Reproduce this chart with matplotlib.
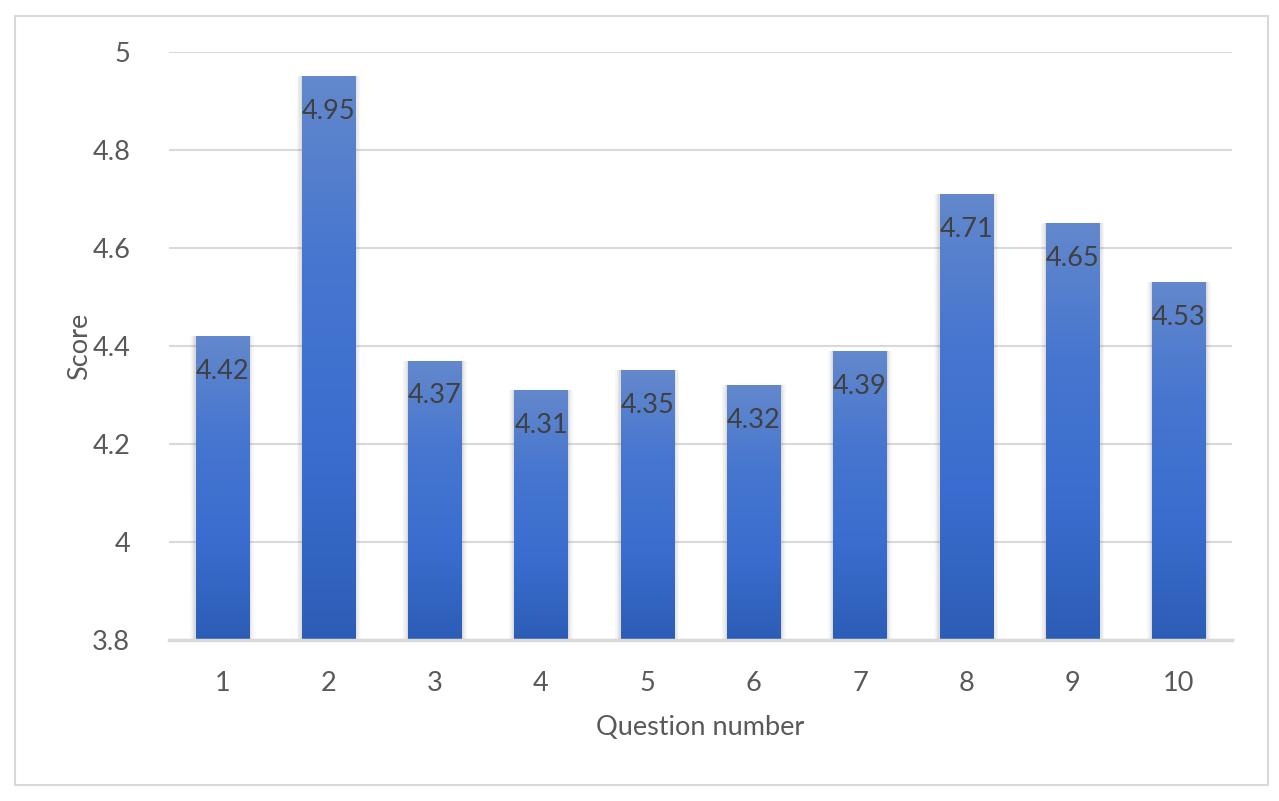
import numpy as np
import matplotlib
matplotlib.use("Agg")
import matplotlib.pyplot as plt
from matplotlib.colors import LinearSegmentedColormap
from matplotlib.patches import Rectangle

# data
questions = ["1", "2", "3", "4", "5", "6", "7", "8", "9", "10"]
scores = [4.42, 4.95, 4.37, 4.31, 4.35, 4.32, 4.39, 4.71, 4.65, 4.53]
y_ticks = [3.8, 4.0, 4.2, 4.4, 4.6, 4.8, 5.0]
y_tick_labels = ["3.8", "4", "4.2", "4.4", "4.6", "4.8", "5"]

plt.rcParams['font.family'] = ['Lato', 'DejaVu Sans']

fig = plt.figure(figsize=(12.79, 8.01), dpi=100)
ax = fig.add_axes([169 / 1279, 1 - 640 / 801, (1232 - 169) / 1279, (640 - 52) / 801])

# outer chart border
fig.patches.append(Rectangle((15 / 1279, 1 - 785 / 801), 1253 / 1279, 769 / 801,
                             transform=fig.transFigure, fill=False,
                             edgecolor="#d9d9d9", lw=1.5))

x = np.arange(1, len(questions) + 1)
w = 0.5
ymin, ymax = 3.8, 5.0

ax.set_xlim(0.5, 10.5)
ax.set_ylim(ymin, ymax)

# soft shadow behind bars
for k, a in zip([0.1, 0.07, 0.045, 0.025], [0.06, 0.07, 0.08, 0.10]):
    ax.bar(x, np.array(scores) - ymin, bottom=ymin, width=w + k,
           color="#808080", alpha=a, lw=0, zorder=2)

bars = ax.bar(x, np.array(scores) - ymin, bottom=ymin, width=w,
              facecolor="none", edgecolor="none", zorder=3)

cmap = LinearSegmentedColormap.from_list(
    "bargrad", ["#2c5db6", "#3a6dcf", "#4676d0", "#6388cc"])
grad = np.linspace(0, 1, 256).reshape(-1, 1)
for b, v in zip(bars, scores):
    bx = b.get_x()
    im = ax.imshow(grad, cmap=cmap, origin="lower", aspect="auto",
                   extent=[bx, bx + w, ymin, v], zorder=3)
    im.set_clip_path(b)

for xi, v in zip(x, scores):
    ax.text(xi, v - 0.072, f"{v:.2f}", ha="center", va="center",
            fontsize=19.5, color="#404040", zorder=5)

ax.set_yticks(y_ticks)
ax.set_yticklabels(y_tick_labels)
ax.set_xticks(x)
ax.set_xticklabels(questions)
ax.tick_params(length=0, labelsize=19.5, colors="#595959")
ax.tick_params(axis="y", pad=28)
ax.tick_params(axis="x", pad=22)
ax.grid(axis="y", color="#d9d9d9", lw=1.5, zorder=0)
ax.set_axisbelow(True)
for s in ["top", "right", "left"]:
    ax.spines[s].set_visible(False)
ax.spines["bottom"].set_color("#d9d9d9")
ax.spines["bottom"].set_linewidth(2.5)
ax.spines["bottom"].set_zorder(4)

ax.set_xlabel("Question number", fontsize=19.5, color="#595959", labelpad=14)
ax.set_ylabel("Score", fontsize=19.5, color="#595959", labelpad=0)

fig.savefig("out.png", dpi=100, facecolor="white")
